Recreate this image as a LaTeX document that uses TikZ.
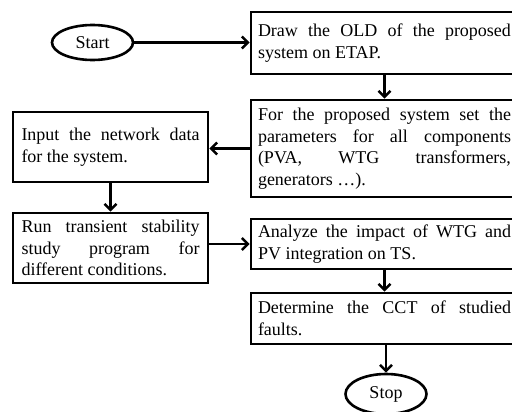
\documentclass[tikz,border=0pt]{standalone}
\usepackage{fontspec}
\setmainfont{Liberation Serif}
\usetikzlibrary{arrows.meta,shapes.geometric}
\begin{document}
\begin{tikzpicture}[x=1pt,y=-1pt,
  font=\fontsize{18}{21.5}\selectfont,
  box/.style={draw, line width=2.6pt, align=justify, inner ysep=0pt, anchor=center},
  rbox/.style={box, text width=253pt, inner xsep=7pt},
  lbox/.style={box, text width=178pt, inner xsep=8.5pt},
  term/.style={draw, ellipse, line width=2.6pt, minimum width=81pt, minimum height=35pt, inner sep=0pt},
  flow/.style={line width=2.6pt, -{Straight Barb[length=6pt,width=12pt]}}]
\useasboundingbox (0,0) rectangle (512,412);
\clip (0,0) rectangle (512,412);

% terminals
\node[term] (start) at (92.5,42.5) {Start};
\node[term, minimum height=40pt] (stop) at (386,394) {Stop};

% right column
\node[rbox, minimum height=62pt] (old) at (384.5,43)
  {Draw the OLD of the proposed\linebreak system on ETAP.};
\node[rbox, minimum height=97pt] (param) at (384.5,148.5)
  {For the proposed system set the\linebreak parameters for all components\linebreak (PVA, WTG transformers,\linebreak generators …).};
\node[rbox, minimum height=50pt] (impact) at (384.5,244)
  {Analyze the impact of WTG and\linebreak PV integration on TS.};
\node[rbox, minimum height=51pt] (cct) at (384.5,318.5)
  {Determine the CCT of studied\linebreak faults.};

% left column
\node[lbox, minimum height=70pt] (input) at (110.5,147)
  {Input the network data\linebreak for the system.};
\node[lbox, minimum height=70pt] (run) at (110.5,248)
  {Run transient stability\linebreak study program for\linebreak different conditions.};

% connectors
\draw[flow] (start.east) -- (start.east -| old.west);
\draw[flow] (old) -- (param);
\draw[flow] (param.west) -- (param.west -| input.east);
\draw[flow] (input) -- (run);
\draw[flow] (run.east |- impact.west) -- (impact.west);
\draw[flow] (impact) -- (cct);
\draw[flow] (cct.south -| stop.north) -- (stop.north);
\end{tikzpicture}
\end{document}
